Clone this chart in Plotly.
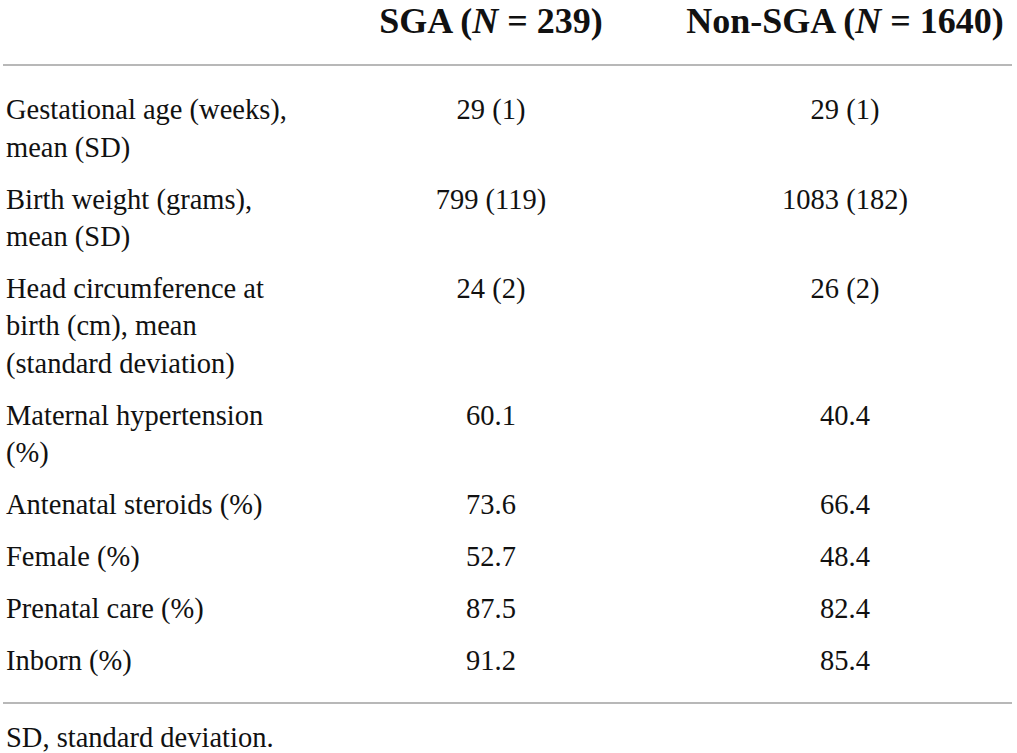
import plotly.graph_objects as go

# table content
columns = ["SGA (<i>N</i> = 239)", "Non-SGA (<i>N</i> = 1640)"]
row_labels = [
    "Gestational age (weeks),<br>mean (SD)",
    "Birth weight (grams),<br>mean (SD)",
    "Head circumference at<br>birth (cm), mean<br>(standard deviation)",
    "Maternal hypertension<br>(%)",
    "Antenatal steroids (%)",
    "Female (%)",
    "Prenatal care (%)",
    "Inborn (%)",
]
sga = ["29 (1)", "799 (119)", "24 (2)", "60.1", "73.6", "52.7", "87.5", "91.2"]
non_sga = ["29 (1)", "1083 (182)", "26 (2)", "40.4", "66.4", "48.4", "82.4", "85.4"]
footnote = "SD, standard deviation."

W, H = 1017, 753
font_body = "Liberation Serif"
body_size = 28.5
line_h = 37.5
row_gap = 14.4
first_row_y = 112
col_x = [491, 845]
label_x = 6

# compute layout positions for each text line
lab_x, lab_y, lab_t = [], [], []
val_y = []
y = first_row_y
for lab in row_labels:
    parts = lab.split("<br>")
    val_y.append(y)
    for i, p in enumerate(parts):
        lab_x.append(label_x)
        lab_y.append(y + i * line_h)
        lab_t.append(p)
    y += len(parts) * line_h + row_gap

txt = dict(family=font_body, size=body_size, color="#111111")

fig = go.Figure()

fig.add_trace(go.Scatter(
    x=col_x, y=[24, 24], text=columns,
    mode="text", textposition="middle center", cliponaxis=False,
    textfont=dict(family=font_body, size=36, color="#111111"),
    texttemplate="<b>%{text}</b>", hoverinfo="skip",
))
fig.add_trace(go.Scatter(
    x=lab_x, y=lab_y, text=lab_t, mode="text", textposition="middle right",
    cliponaxis=False, textfont=txt, hoverinfo="skip",
))
fig.add_trace(go.Scatter(
    x=[col_x[0]] * len(sga), y=val_y, text=sga, mode="text",
    textposition="middle center", cliponaxis=False, textfont=txt, hoverinfo="skip",
))
fig.add_trace(go.Scatter(
    x=[col_x[1]] * len(non_sga), y=val_y, text=non_sga, mode="text",
    textposition="middle center", cliponaxis=False, textfont=txt, hoverinfo="skip",
))
fig.add_trace(go.Scatter(
    x=[label_x], y=[740], text=[footnote], mode="text", textposition="middle right",
    cliponaxis=False, textfont=txt, hoverinfo="skip",
))

for ly in [65, 703]:
    fig.add_shape(type="line", x0=3, x1=1012, y0=ly, y1=ly, xref="x", yref="y",
                  line=dict(color="#a0a0a0", width=1.5))

fig.update_layout(
    width=W, height=H, margin=dict(l=0, r=0, t=0, b=0),
    paper_bgcolor="white", plot_bgcolor="white", showlegend=False,
    xaxis=dict(range=[0, W], visible=False, fixedrange=True),
    yaxis=dict(range=[H, 0], visible=False, fixedrange=True),
)

# drop the default page margin so the figure fills the window
fig.write_html("out.html", config={"displayModeBar": False},
               post_script="document.body.style.margin='0px';")
